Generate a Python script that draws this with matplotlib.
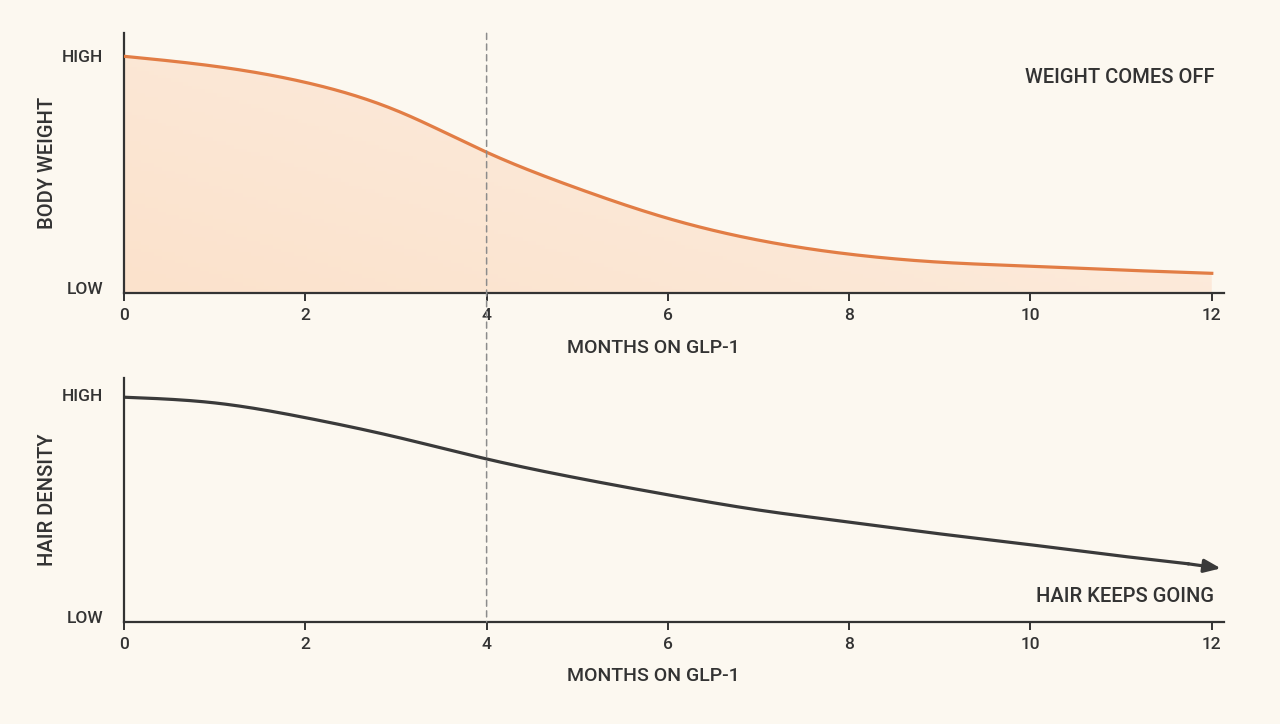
import numpy as np
import matplotlib.pyplot as plt
from matplotlib.colors import LinearSegmentedColormap
from matplotlib.patches import ConnectionPatch

plt.rcParams['font.family'] = ['Roboto', 'DejaVu Sans']

months = [0, 1, 2, 3, 4, 5, 6, 7, 8, 9, 10, 11, 12]
body_weight = [1.0, 0.958, 0.89, 0.772, 0.595, 0.443, 0.316, 0.224, 0.165, 0.131, 0.114, 0.098, 0.084]
hair_density = [0.99, 0.965, 0.90, 0.815, 0.718, 0.634, 0.56, 0.493, 0.44, 0.388, 0.34, 0.29, 0.242]
xticks = [0, 2, 4, 6, 8, 10, 12]
marker_month = 4

bg = '#FCF8F0'
orange = '#E27D45'
dark = '#333333'
hair_col = '#3A3A3A'


def spline(x, y, xs):
    # natural cubic spline through the read-off points
    x = np.asarray(x, float)
    y = np.asarray(y, float)
    n = len(x)
    h = np.diff(x)
    A = np.zeros((n, n))
    r = np.zeros(n)
    A[0, 0] = A[-1, -1] = 1
    for k in range(1, n - 1):
        A[k, k - 1] = h[k - 1]
        A[k, k] = 2 * (h[k - 1] + h[k])
        A[k, k + 1] = h[k]
        r[k] = 6 * ((y[k + 1] - y[k]) / h[k] - (y[k] - y[k - 1]) / h[k - 1])
    M = np.linalg.solve(A, r)
    i = np.clip(np.searchsorted(x, xs) - 1, 0, n - 2)
    a = x[i + 1] - xs
    b = xs - x[i]
    hi = h[i]
    return (M[i] * a**3 / (6 * hi) + M[i + 1] * b**3 / (6 * hi)
            + (y[i] / hi - M[i] * hi / 6) * a + (y[i + 1] / hi - M[i + 1] * hi / 6) * b)


xs = np.linspace(0, 12, 400)

fig = plt.figure(figsize=(12.8, 7.24), dpi=100, facecolor=bg)
ax1 = fig.add_axes([0.0969, 0.595, 0.859, 0.359])
ax2 = fig.add_axes([0.0969, 0.141, 0.859, 0.337])

for ax in (ax1, ax2):
    ax.set_facecolor('none')
    for s in ('top', 'right'):
        ax.spines[s].set_visible(False)
    for s in ('left', 'bottom'):
        ax.spines[s].set_color(dark)
        ax.spines[s].set_linewidth(1.6)
    ax.set_xticks(xticks)
    ax.tick_params(axis='x', length=6, width=1.4, color=dark, labelsize=12.5,
                   labelcolor=dark, pad=5)
    ax.tick_params(axis='y', length=0, labelsize=12.5, labelcolor=dark, pad=15)
    ax.set_yticks([0.02, 1.0])
    ax.set_yticklabels(['LOW', 'HIGH'], fontweight='medium')
    for lab in ax.get_xticklabels():
        lab.set_fontweight('medium')
    ax.set_xlabel('MONTHS ON GLP-1', fontsize=14, color=dark, fontweight='medium')

ax1.xaxis.set_label_coords(0.481, -0.175)
ax2.xaxis.set_label_coords(0.481, -0.185)

# top panel: body weight
w = spline(months, body_weight, xs)
fill = ax1.fill_between(xs, 0, w, color='none', lw=0)
grad = np.linspace(0, 1, 256)[None, :] * np.ones((64, 1))
grad = grad * 0.6 + (1 - np.linspace(0, 1, 64)[:, None]) * 0.4
peach = LinearSegmentedColormap.from_list('peach', ['#FBE2CC', '#FDEFE3'])
img = ax1.imshow(grad, extent=[0, 12, 0, 1.0], aspect='auto', origin='upper',
                 cmap=peach, zorder=1)
img.set_clip_path(fill.get_paths()[0], transform=ax1.transData)
ax1.set_xlim(0, 12.13)
ax1.set_ylim(0, 1.097)
ax1.plot(xs, w, color=orange, lw=2.3, zorder=3)
ax1.set_ylabel('BODY WEIGHT', fontsize=14.5, color=dark, fontweight='medium')
ax1.yaxis.set_label_coords(-0.061, 0.5)
ax1.text(12.03, 0.91, 'WEIGHT COMES OFF', ha='right', va='center', fontsize=14.5,
         color=dark, fontweight='medium')

# bottom panel: hair density
xh = np.linspace(0, 12.1, 400)
h = spline(months + [12.1], hair_density + [0.236], xh)
ax2.set_xlim(0, 12.13)
ax2.set_ylim(0, 1.075)
ax2.plot(xh[:-12], h[:-12], color=hair_col, lw=2.3)
ax2.annotate('', xy=(xh[-1], h[-1]), xytext=(xh[-13], h[-13]),
             arrowprops=dict(arrowstyle='-|>,head_length=1.0,head_width=0.4',
                             color=hair_col, lw=2.3, shrinkA=0, shrinkB=0))
ax2.set_ylabel('HAIR DENSITY', fontsize=14.5, color=dark, fontweight='medium')
ax2.yaxis.set_label_coords(-0.061, 0.5)
ax2.text(12.03, 0.11, 'HAIR KEEPS GOING', ha='right', va='center', fontsize=14.5,
         color=dark, fontweight='medium')

# dashed marker across both panels
con = ConnectionPatch(xyA=(marker_month, 1.097), coordsA=ax1.transData,
                      xyB=(marker_month, 0), coordsB=ax2.transData,
                      linestyle=(0, (4, 3)), color='#8C8C8C', lw=1.1, zorder=2)
fig.add_artist(con)

fig.savefig('out.png', dpi=100, facecolor=bg)
